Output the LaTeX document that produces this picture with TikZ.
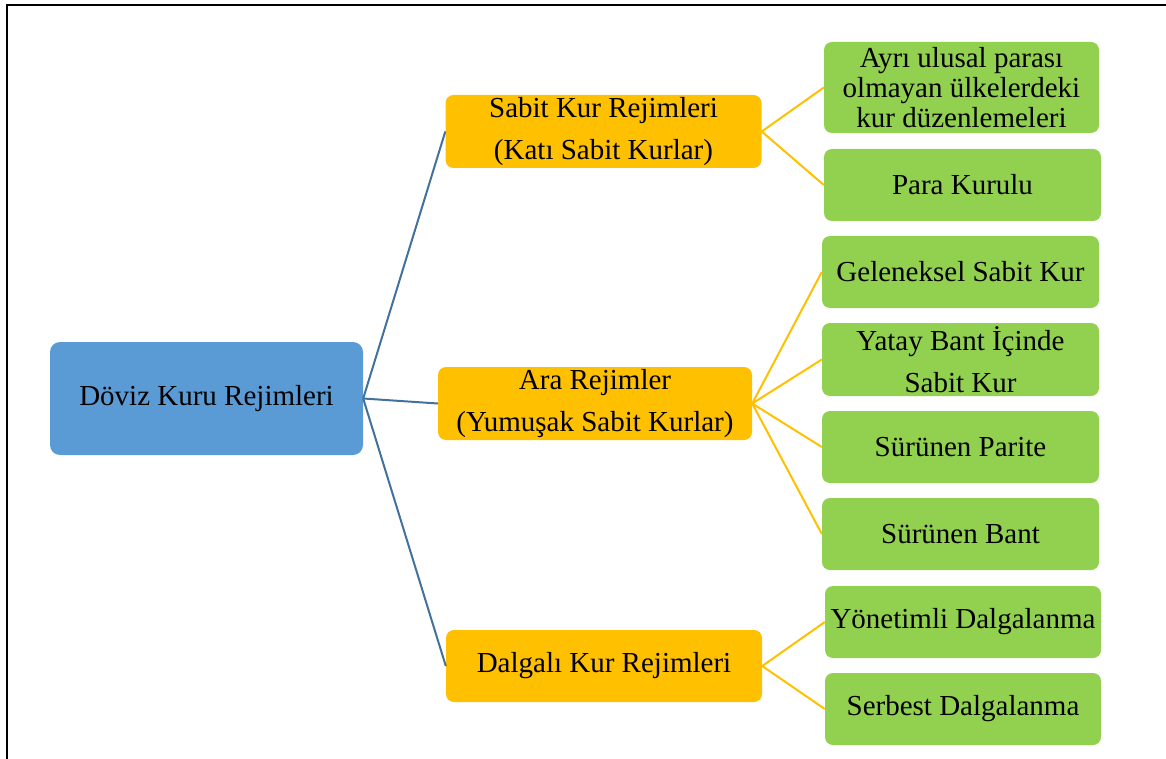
\documentclass[tikz,border=0pt]{standalone}
\usepackage{fontspec}
\setmainfont{Liberation Serif}
\usepackage{tikz}
\usetikzlibrary{positioning, arrows.meta}

\definecolor{rootblue}{HTML}{5B9BD5}
\definecolor{linkblue}{HTML}{41719C}
\definecolor{midorange}{HTML}{FFC000}
\definecolor{leafgreen}{HTML}{92D050}

\tikzset{
    rootbox/.style={fill=rootblue, rounded corners=10pt, align=center, inner sep=0pt,
        font=\fontsize{29}{42}\selectfont},
    midbox/.style={fill=midorange, rounded corners=8pt, align=center, inner sep=0pt,
        minimum width=316pt, minimum height=73pt, font=\fontsize{29}{42}\selectfont},
    leafbox/.style={fill=leafgreen, rounded corners=8pt, align=center, inner sep=0pt,
        minimum width=277pt, minimum height=72pt, font=\fontsize{29}{42}\selectfont},
    bluelink/.style={draw=linkblue, line width=2pt},
    yellowlink/.style={draw=midorange, line width=2pt}
}

\begin{document}
\begin{tikzpicture}[x=1pt, y=-1pt]
    \useasboundingbox (0,0) rectangle (1166,759);
    % frame
    \draw[line width=2pt, line cap=rect] (7,759) -- (7,5) -- (1166,5);

    % Nodes with rounded rectangles
    \node[rootbox, minimum width=313pt, minimum height=113pt] (doviz) at (206.5,398.5) {Döviz Kuru Rejimleri};

    \node[midbox] (sabit) at (603.5,131.5) {Sabit Kur Rejimleri\\(Katı Sabit Kurlar)};
    \node[midbox, minimum width=314pt] (ara) at (595,403.5) {Ara Rejimler\\(Yumuşak Sabit Kurlar)};
    \node[midbox, minimum height=72pt] (dalgali) at (604,666) {Dalgalı Kur Rejimleri};

    \node[leafbox, minimum width=275pt, minimum height=91pt, font=\fontsize{29}{30}\selectfont] (ayri) at (961.5,87.5) {Ayrı ulusal parası\\olmayan ülkelerdeki\\kur düzenlemeleri};
    \node[leafbox] (para) at (962.5,185) {Para Kurulu};
    \node[leafbox] (gelen) at (960.5,272) {Geleneksel Sabit Kur};
    \node[leafbox, minimum height=73pt] (yatay) at (960.5,359.5) {Yatay Bant İçinde\\Sabit Kur};
    \node[leafbox] (parite) at (960.5,447) {Sürünen Parite};
    \node[leafbox] (bant) at (960.5,534) {Sürünen Bant};
    \node[leafbox, minimum width=276pt] (yonet) at (963,622) {Yönetimli Dalgalanma};
    \node[leafbox, minimum width=276pt] (serbest) at (963,709) {Serbest Dalgalanma};

    % Edges from the root
    \draw[bluelink] (doviz.east) -- (sabit.west);
    \draw[bluelink] (doviz.east) -- (ara.west);
    \draw[bluelink] (doviz.east) -- (dalgali.west);

    % Edges to the leaves
    \draw[yellowlink] (sabit.east) -- (ayri.west);
    \draw[yellowlink] (sabit.east) -- (para.west);
    \foreach \leaf in {gelen, yatay, parite, bant}
        \draw[yellowlink] (ara.east) -- (\leaf.west);
    \draw[yellowlink] (dalgali.east) -- (yonet.west);
    \draw[yellowlink] (dalgali.east) -- (serbest.west);
\end{tikzpicture}
\end{document}
